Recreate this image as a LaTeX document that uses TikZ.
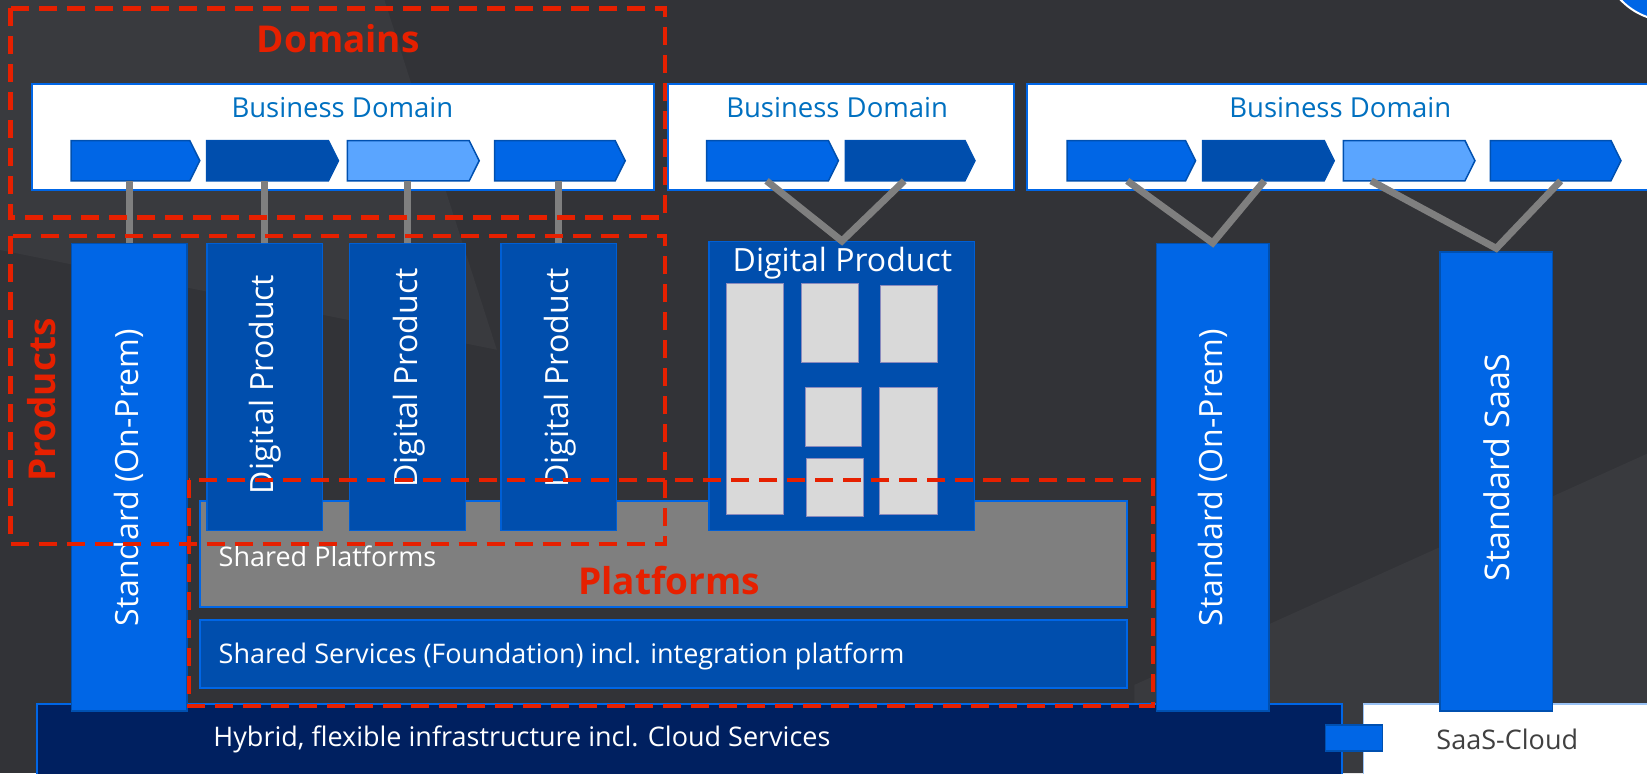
\documentclass[tikz,border=0pt]{standalone}
\usepackage{fontspec}
\setmainfont{Open Sans}
\usetikzlibrary{fit,calc}
\definecolor{bg}{HTML}{323337}
\definecolor{bgl}{HTML}{393A3E}
\definecolor{mblue}{HTML}{0066E6}
\definecolor{dblue}{HTML}{004EAD}
\definecolor{lblue}{HTML}{5AA5FF}
\definecolor{bdark}{HTML}{0050B0}
\definecolor{navy}{HTML}{002060}
\definecolor{cgray}{HTML}{7F7F7F}
\definecolor{redd}{HTML}{E62000}
\definecolor{tblue}{HTML}{0070C0}
\definecolor{lgray}{HTML}{D9D9D9}
\definecolor{txtgray}{HTML}{404040}
\newcommand\mychev[4]{%
  \node[fit={(#2,134) (#3,172)}, inner sep=0pt] (#1) {};
  \draw[chevline, fill=#4] (#1.north west) -- ([xshift=-10pt]#1.north east) -- (#1.east)
    -- ([xshift=-10pt]#1.south east) -- (#1.south west) -- cycle;}
\begin{document}
\begin{tikzpicture}[x=1.0504pt, y=-1.0504pt,
  wbox/.style={draw=mblue, line width=2pt, fill=white, inner sep=0pt},
  mcol/.style={draw=bdark, line width=1.5pt, fill=mblue, inner sep=0pt},
  dcol/.style={draw=mblue!70!dblue, line width=1.2pt, fill=dblue, inner sep=0pt},
  chevline/.style={draw=bdark, line width=1.5pt},
  inner/.style={draw=black!20!lgray!80!blue, line width=0.8pt, fill=lgray, inner sep=0pt},
  conn/.style={draw=cgray, line width=7pt},
  zone/.style={draw=redd, line width=4.2pt, dash pattern=on 18pt off 10pt},
  zlabel/.style={text=redd, font=\fontsize{37}{40}\selectfont\bfseries, inner sep=0pt},
  bdtext/.style={text=tblue, font=\fontsize{27.5}{32}\selectfont, inner sep=0pt},
  vtext/.style={text=white, rotate=90, font=\fontsize{32}{36}\selectfont, inner sep=0pt},
  htext/.style={text=white, font=\fontsize{27}{32}\selectfont, inner sep=0pt, anchor=west}]
\useasboundingbox (0,0) rectangle (1568,736);
\fill[bg] (0,0) rectangle (1568,736);
\fill[bgl] (0,0) -- (366,0) -- (473,333) -- (0,238) -- cycle;
\fill[bgl] (1080,652) -- (1568,432) -- (1568,736) -- (1080,736) -- cycle;
\filldraw[fill=mblue, draw=white, line width=2pt] (1590,-45) circle (65);

% bottom layer
\node[draw=mblue, line width=2pt, fill=navy, inner sep=0pt, fit={(35,670) (1278,750)}] (hyb) {};
\node[htext] (hybt) at (203,704) {Hybrid, flexible infrastructure incl. Cloud Services};
\node[draw=mblue!40, line width=1.5pt, fill=white, inner sep=0pt, fit={(1298,670) (1590,750)}] (saasc) {};
\node[text=txtgray, font=\fontsize{27}{32}\selectfont, inner sep=0pt] (saasct) at (1435,704) {SaaS-Cloud};
\node[mcol, fit={(1262,690) (1316,715)}] (sq) {};

% platforms
\node[draw=mblue, line width=2pt, fill=cgray, inner sep=0pt, fit={(190,477) (1073,578)}] (shp) {};
\node[htext] (shpt) at (208,530) {Shared Platforms};
\node[draw=mblue, line width=2pt, fill=dblue, inner sep=0pt, fit={(190,590) (1073,655)}] (shs) {};
\node[htext] (shst) at (208,625) {Shared Services (Foundation) incl. integration platform};

% columns
\node[mcol, fit={(68,232) (178,677)}] (std1) {};
\node[vtext] (std1t) at (123,455) {Standard (On-Prem)};
\node[dcol, fit={(197,232) (307,505)}] (dp1) {};
\node[vtext] (dp1t) at (252,366) {Digital Product};
\node[dcol, fit={(333,232) (443,505)}] (dp2) {};
\node[vtext] (dp2t) at (390,360) {Digital Product};
\node[dcol, fit={(477,232) (587,505)}] (dp3) {};
\node[vtext] (dp3t) at (533,360) {Digital Product};
\node[mcol, fit={(1101,232) (1208,677)}] (std2) {};
\node[vtext] (std2t) at (1155,455) {Standard (On-Prem)};
\node[mcol, fit={(1371,240) (1478,677)}] (saas) {};
\node[vtext, font=\fontsize{34}{38}\selectfont] (saast) at (1425,445) {Standard SaaS};

% big digital product
\node[dcol, fit={(675,230) (928,505)}] (dpb) {};
\node[text=white, font=\fontsize{32}{36}\selectfont, inner sep=0pt] (dpbt) at (802,251) {Digital Product};
\node[inner, fit={(692,270) (746,490)}] (i1) {};
\node[inner, fit={(763,270) (817,345)}] (i2) {};
\node[inner, fit={(838,272) (892,345)}] (i3) {};
\node[inner, fit={(767,369) (820,425)}] (i4) {};
\node[inner, fit={(837,369) (892,490)}] (i5) {};
\node[inner, fit={(768,436) (822,492)}] (i6) {};

% business domains
\node[wbox, fit={(30,80) (623,181)}] (bd1) {};
\node[bdtext] (bd1t) at (326,102) {Business Domain};
\node[wbox, fit={(636,80) (965,181)}] (bd2) {};
\node[bdtext] (bd2t) at (797,102) {Business Domain};
\node[wbox, fit={(978,80) (1590,181)}] (bd3) {};
\node[bdtext] (bd3t) at (1276,102) {Business Domain};

\mychev{a1}{68}{190}{mblue}
\mychev{a2}{197}{322}{dblue}
\mychev{a3}{331}{456}{lblue}
\mychev{a4}{471}{595}{mblue}
\mychev{b1}{673}{798}{mblue}
\mychev{b2}{805}{928}{dblue}
\mychev{c1}{1016}{1138}{mblue}
\mychev{c2}{1145}{1270}{dblue}
\mychev{c3}{1279}{1404}{lblue}
\mychev{c4}{1419}{1543}{mblue}

% connectors
\draw[conn] (a1.south -| std1.north) -- (std1.north);
\draw[conn] (a2.south -| dp1.north) -- (dp1.north);
\draw[conn] (a3.south -| dp2.north) -- (dp2.north);
\draw[conn] (a4.south -| dp3.north) -- (dp3.north);
\draw[conn] ([xshift=-6pt]b1.south) -- (dpb.north) -- ([xshift=-6pt]b2.south);
\draw[conn] ([xshift=-4pt]c1.south) -- (std2.north) -- ([xshift=-4pt]c2.south);
\draw[conn] ([xshift=-38pt]c3.south) -- ([yshift=3pt]saas.north) -- ([xshift=5pt]c4.south);

% zones
\draw[zone] (10,8) rectangle (633,207);
\draw[zone] (10,225) rectangle (633,518);
\draw[zone] (180,457) rectangle (1098,672);
\node[zlabel] (zd) at (322,37) {Domains};
\node[zlabel, rotate=90] (zp) at (40,381) {Products};
\node[zlabel] (zpl) at (637,553) {Platforms};
\end{tikzpicture}
\end{document}
